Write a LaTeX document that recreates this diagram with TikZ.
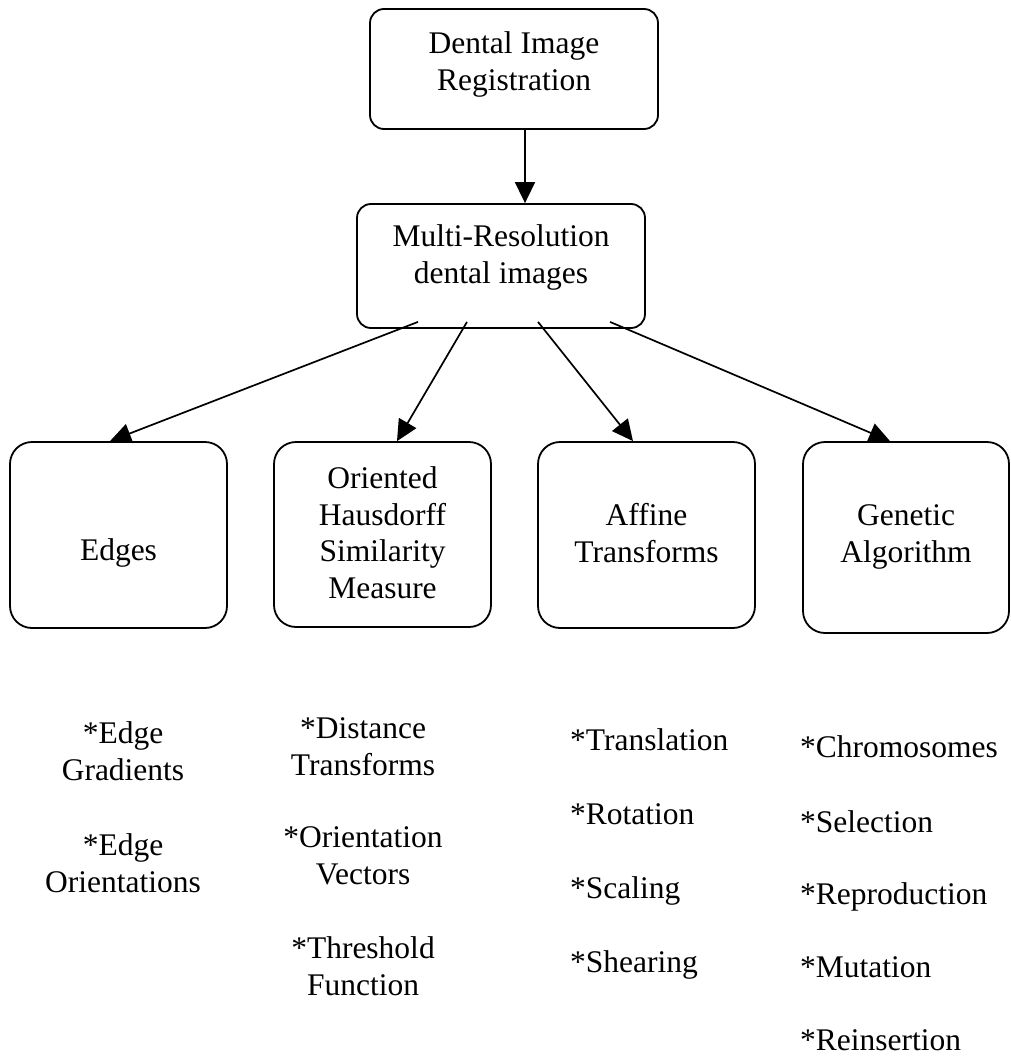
\documentclass[tikz,border=0pt]{standalone}
\usepackage{fontspec}
\setmainfont{Liberation Serif}
\usetikzlibrary{arrows.meta}

\begin{document}
\begin{tikzpicture}[
    x=1pt, y=-1pt,
    block/.style={draw, line width=1.8pt, rounded corners=14pt, align=center, inner sep=0pt, minimum width=288pt, text depth=0pt},
    stage/.style={draw, line width=1.8pt, rounded corners=22pt, align=center, inner sep=0pt, minimum width=217pt, minimum height=186pt, text depth=0pt},
    item/.style={align=center, anchor=base, inner sep=0pt},
    entry/.style={anchor=base west, inner sep=0pt},
    link/.style={-{Triangle[length=21pt,width=20pt]}, line width=1.7pt},
    font=\fontsize{31.5}{36.5}\selectfont
]
    \useasboundingbox (0,0) rectangle (1010,1057);

    % Top of the tree
    \node[block, minimum height=120pt, text height=42pt] (reg) at (514,69) {Dental Image\\Registration};
    \node[block, minimum height=124pt, text height=34pt] (multi) at (501,266) {Multi-Resolution\\dental images};

    % Four stages
    \node[stage, text height=50pt] (edges) at (118.5,535) {Edges};
    \node[stage, minimum height=185pt, text height=127pt] (ohd) at (382.5,534.5) {Oriented\\Hausdorff\\Similarity\\Measure};
    \node[stage, text height=54pt] (affine) at (646.5,535) {Affine\\Transforms};
    \node[stage, minimum width=206pt, minimum height=191pt, text height=49pt] (ga) at (906,537.5) {Genetic\\Algorithm};

    % Arrows
    \draw[link] ([xshift=11pt]reg.south) -- ([xshift=24pt]multi.north);
    \draw[link] ([xshift=-83pt,yshift=7pt]multi.south) -- ([xshift=-8.5pt]edges.north);
    \draw[link] ([xshift=-34pt,yshift=7pt]multi.south) -- ([xshift=14.5pt]ohd.north);
    \draw[link] ([xshift=37pt,yshift=7pt]multi.south) -- ([xshift=-13.5pt]affine.north);
    \draw[link] ([xshift=109pt,yshift=7pt]multi.south) -- ([xshift=-16pt]ga.north);

    % Edges details
    \node[item] (grad) at (123,780) {*Edge\\Gradients};
    \node[item] (orient) at (123,892) {*Edge\\Orientations};

    % Hausdorff details
    \node[item] (dist) at (363,775) {*Distance\\Transforms};
    \node[item] (vec) at (363,884) {*Orientation\\Vectors};
    \node[item] (thr) at (363,995) {*Threshold\\Function};

    % Affine details
    \node[entry] (trans) at (570,750) {*Translation};
    \node[entry] (rot) at (570,824) {*Rotation};
    \node[entry] (scal) at (570,898) {*Scaling};
    \node[entry] (shear) at (570,972) {*Shearing};

    % GA details
    \node[entry] (chrom) at (800,757) {*Chromosomes};
    \node[entry] (sel) at (800,832) {*Selection};
    \node[entry] (repro) at (800,904) {*Reproduction};
    \node[entry] (mut) at (800,977) {*Mutation};
    \node[entry] (reins) at (800,1050) {*Reinsertion};
\end{tikzpicture}
\end{document}
